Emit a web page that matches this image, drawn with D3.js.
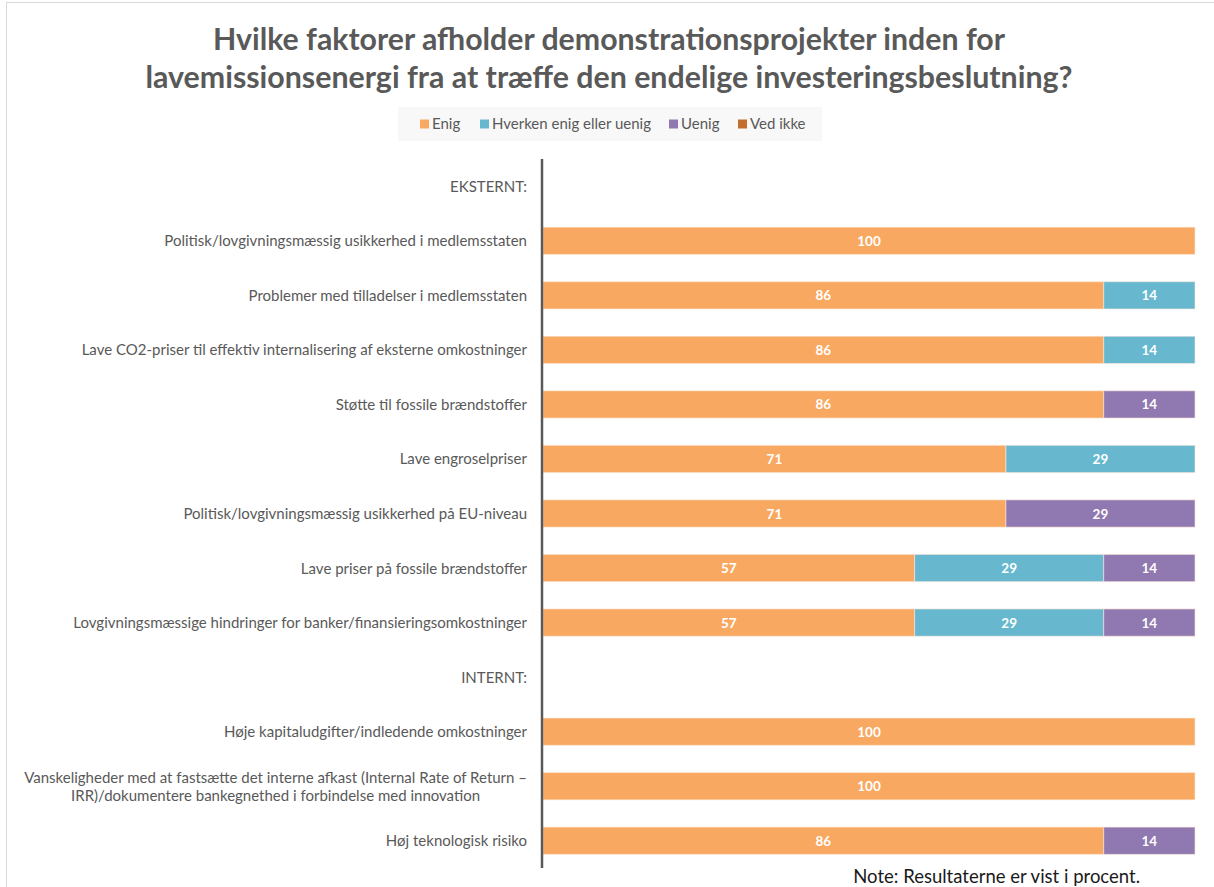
<!DOCTYPE html>
<html>
<head>
<meta charset="utf-8">
<script src="https://cdn.jsdelivr.net/npm/d3@7"></script>
<style>
  html, body { margin: 0; padding: 0; background: #fff; }
  svg { display: block; }
  text { font-family: Lato, "Open Sans", sans-serif; }
</style>
</head>
<body>
<svg id="chart" width="1214" height="887"></svg>
<script>
// Survey categories (top to bottom); section headers carry no values
const categories = [
  "EKSTERNT:",
  "Politisk/lovgivningsmæssig usikkerhed i medlemsstaten",
  "Problemer med tilladelser i medlemsstaten",
  "Lave CO2-priser til effektiv internalisering af eksterne omkostninger",
  "Støtte til fossile brændstoffer",
  "Lave engroselpriser",
  "Politisk/lovgivningsmæssig usikkerhed på EU-niveau",
  "Lave priser på fossile brændstoffer",
  "Lovgivningsmæssige hindringer for banker/finansieringsomkostninger",
  "INTERNT:",
  "Høje kapitaludgifter/indledende omkostninger",
  "Vanskeligheder med at fastsætte det interne afkast (Internal Rate of Return –\nIRR)/dokumentere bankegnethed i forbindelse med innovation",
  "Høj teknologisk risiko"
];

const seriesNames = ["Enig", "Hverken enig eller uenig", "Uenig", "Ved ikke"];
const seriesColors = ["#F9A862", "#67B8CF", "#9079B0", "#C46E2E"];

// Percentages per series, aligned with categories
const enig      = [0, 100, 86, 86, 86, 71, 71, 57, 57, 0, 100, 100, 86];
const hverken   = [0,   0, 14, 14,  0, 29,  0, 29, 29, 0,   0,   0,  0];
const uenig     = [0,   0,  0,  0, 14,  0, 29, 14, 14, 0,   0,   0, 14];
const vedIkke   = [0,   0,  0,  0,  0,  0,  0,  0,  0, 0,   0,   0,  0];

const titleLines = [
  "Hvilke faktorer afholder demonstrationsprojekter inden for",
  "lavemissionsenergi fra at træffe den endelige investeringsbeslutning?"
];
const noteText = "Note: Resultaterne er vist i procent.";

const svg = d3.select("#chart");

// outer frame
svg.append("rect")
  .attr("x", 6.5).attr("y", 2.5)
  .attr("width", 1214).attr("height", 900)
  .attr("fill", "none").attr("stroke", "#d9d9d9").attr("stroke-width", 1);

// title
const titleWidths = [792, 927];
svg.append("g").selectAll("text")
  .data(titleLines)
  .join("text")
  .attr("x", 609)
  .attr("y", (d, i) => 50 + i * 38)
  .attr("text-anchor", "middle")
  .attr("font-size", 30)
  .attr("font-weight", "bold")
  .attr("fill", "#595959")
  .attr("textLength", (d, i) => titleWidths[i])
  .attr("lengthAdjust", "spacingAndGlyphs")
  .text(d => d);

// legend
const legend = svg.append("g");
legend.append("rect")
  .attr("x", 398).attr("y", 107).attr("width", 424).attr("height", 34)
  .attr("fill", "#f8f8f8");
const legendX = [420, 480, 669, 738];
const li = legend.selectAll("g.item")
  .data(seriesNames)
  .join("g")
  .attr("class", "item")
  .attr("transform", (d, i) => `translate(${legendX[i]},124)`);
li.append("rect")
  .attr("x", 0).attr("y", -4.5).attr("width", 9).attr("height", 9)
  .attr("fill", (d, i) => seriesColors[i]);
li.append("text")
  .attr("x", 12).attr("y", 5)
  .attr("font-size", 15).attr("fill", "#595959")
  .text(d => d);

// scales
const x = d3.scaleLinear().domain([0, 100]).range([543, 1195]);
const y = d3.scaleBand().domain(d3.range(categories.length)).range([159, 868]).paddingInner(0.5).paddingOuter(0.25);

const series = [enig, hverken, uenig, vedIkke];
const rows = categories.map((c, i) => {
  const r = { idx: i };
  seriesNames.forEach((s, k) => r[s] = series[k][i]);
  return r;
});
const stacked = d3.stack().keys(seriesNames)(rows);

const bars = svg.append("g");
stacked.forEach((layer, k) => {
  const g = bars.append("g");
  const segs = layer.filter(d => d[1] - d[0] > 0);
  g.selectAll("rect")
    .data(segs)
    .join("rect")
    .attr("x", d => x(d[0]))
    .attr("y", d => y(d.data.idx))
    .attr("width", d => x(d[1]) - x(d[0]))
    .attr("height", y.bandwidth())
    .attr("fill", seriesColors[k])
    .attr("stroke", "#fde9d9")
    .attr("stroke-opacity", 0.6)
    .attr("stroke-width", 1);
  g.selectAll("text")
    .data(segs)
    .join("text")
    .attr("x", d => (x(d[0]) + x(d[1])) / 2)
    .attr("y", d => y(d.data.idx) + y.bandwidth() / 2 + 5)
    .attr("text-anchor", "middle")
    .attr("font-size", 13.5)
    .attr("font-weight", "bold")
    .attr("fill", "#ffffff")
    .text(d => d[1] - d[0]);
});

// vertical category axis line
svg.append("line")
  .attr("x1", 542).attr("x2", 542)
  .attr("y1", 159).attr("y2", 868)
  .attr("stroke", "#595959").attr("stroke-width", 2.5);

// category labels (multi-line labels are centred within a right-aligned block)
const labelRight = 527;
const labels = svg.append("g");
categories.forEach((c, i) => {
  const lines = c.split("\n");
  const cy = y(i) + y.bandwidth() / 2;
  const lh = 18;
  const t = labels.append("text")
    .attr("font-size", 15).attr("fill", "#595959");
  const spans = lines.map((ln, j) => t.append("tspan")
    .attr("y", cy + 5.5 + (j - (lines.length - 1) / 2) * lh)
    .text(ln));
  const widths = spans.map(s => s.node().getComputedTextLength());
  const maxW = d3.max(widths);
  if (lines.length === 1) {
    spans[0].attr("x", labelRight).attr("text-anchor", "end");
  } else {
    spans.forEach(s => s.attr("x", labelRight - maxW / 2).attr("text-anchor", "middle"));
  }
});

// note
svg.append("text")
  .attr("x", 1140).attr("y", 883)
  .attr("text-anchor", "end")
  .attr("font-size", 18.5).attr("fill", "#1a1a1a")
  .text(noteText);
</script>
</body>
</html>
